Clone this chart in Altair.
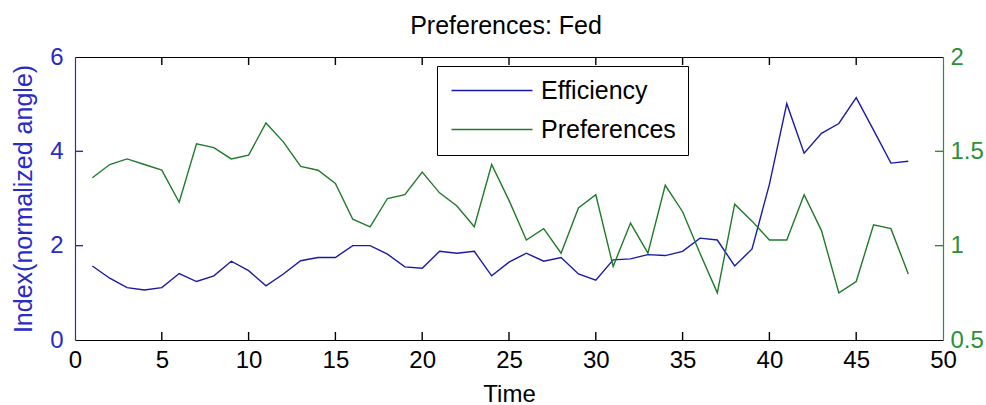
import altair as alt
import pandas as pd

# ---- data ----
time = list(range(1, 49))
efficiency = [1.57, 1.31, 1.11, 1.06, 1.11, 1.41, 1.24, 1.36, 1.67, 1.47, 1.15, 1.40, 1.68, 1.75, 1.75, 2.00,
              2.00, 1.82, 1.55, 1.52, 1.88, 1.84, 1.88, 1.36, 1.65, 1.84, 1.67, 1.75, 1.40, 1.27, 1.70, 1.72,
              1.81, 1.79, 1.88, 2.16, 2.12, 1.57, 1.93, 3.30, 5.01, 3.96, 4.38, 4.59, 5.14, 4.45, 3.75, 3.79]
preferences = [1.36, 1.43, 1.46, 1.43, 1.40, 1.23, 1.54, 1.52, 1.46, 1.48, 1.65, 1.55, 1.42, 1.40, 1.33, 1.14,
               1.10, 1.25, 1.27, 1.39, 1.28, 1.21, 1.10, 1.43, 1.24, 1.03, 1.09, 0.96, 1.20, 1.27, 0.89, 1.12,
               0.96, 1.32, 1.18, 0.96, 0.75, 1.22, 1.13, 1.03, 1.03, 1.27, 1.08, 0.75, 0.81, 1.11, 1.09, 0.85]
series = ["Efficiency", "Preferences"]
x_ticks = [0, 5, 10, 15, 20, 25, 30, 35, 40, 45, 50]
x_inner = [5, 10, 15, 20, 25, 30, 35, 40, 45]
left_ticks = [0, 2, 4, 6]
left_inner = [2, 4]
right_ticks = [0.5, 1, 1.5, 2]
right_inner = [1, 1.5]

df = pd.DataFrame({"Time": time, "Efficiency": efficiency, "Preferences": preferences})
df_xt = pd.DataFrame({"v": x_inner})
df_lt = pd.DataFrame({"v": left_inner})
df_rt = pd.DataFrame({"v": right_inner})

W, H = 868, 283
TL = 8  # inward tick length (pixels)
BLUE = "#1a1aa6"
GREEN = "#207a2a"
BLUE_AX = "#2a2ac4"
GREEN_AX = "#2f8f35"
SANS = "Liberation Sans, Arial, sans-serif"
TICK_FS = 24

xs = alt.Scale(domain=[0, 50], nice=False, zero=False)
ys_l = alt.Scale(domain=[0, 6], nice=False, zero=False)
ys_r = alt.Scale(domain=[0.5, 2], nice=False, zero=False)
color_scale = alt.Scale(domain=series, range=[BLUE, GREEN])

# legend line: custom horizontal stroke path (scaled by sqrt(size)/2 = 10 px per unit)
legend = alt.Legend(
    title=None, orient="none", legendX=362, legendY=9,
    symbolType="M-1,0H7.1", symbolSize=400, symbolStrokeWidth=1.5,
    labelFont=SANS, labelFontSize=25, labelColor="black", labelOffset=67,
    strokeColor="black", fillColor="white", padding=12, rowPadding=13,
    cornerRadius=0,
)

base = alt.Chart(df)

eff_line = base.mark_line(strokeWidth=1.4).transform_calculate(
    series="'Efficiency'"
).encode(
    x=alt.X("Time:Q", scale=xs, axis=alt.Axis(
        orient="bottom", values=x_ticks, ticks=False, grid=False,
        domainColor="black", domainWidth=1.2,
        labelFont=SANS, labelFontSize=TICK_FS, labelColor="black", labelPadding=8,
        labelFlush=False, labelOverlap=False,
        title="Time", titleFont=SANS, titleFontSize=24, titleFontWeight="normal",
        titleColor="black", titleBaseline="alphabetic", titleY=61)),
    y=alt.Y("Efficiency:Q", scale=ys_l, axis=alt.Axis(
        orient="left", values=left_ticks, ticks=False, grid=False,
        domainColor=BLUE_AX, domainWidth=1.2,
        labelFont=SANS, labelFontSize=TICK_FS, labelColor=BLUE_AX, labelPadding=12,
        labelFlush=False, labelOverlap=False,
        title="Index(normalized angle)", titleFont=SANS, titleFontSize=25,
        titleFontWeight="normal", titleColor=BLUE_AX, titleAngle=270,
        titleX=-52, titleY=141.5, titleAlign="center", titleBaseline="middle")),
    color=alt.Color("series:N", scale=color_scale, legend=legend),
)

pref_line = base.mark_line(strokeWidth=1.4).transform_calculate(
    series="'Preferences'"
).encode(
    x=alt.X("Time:Q", scale=xs, axis=alt.Axis(
        orient="top", values=x_ticks, ticks=False, labels=False, grid=False,
        domainColor="black", domainWidth=1.2, title=None)),
    y=alt.Y("Preferences:Q", scale=ys_r, axis=alt.Axis(
        orient="right", values=right_ticks, format="~g", ticks=False, grid=False,
        domainColor=GREEN_AX, domainWidth=1.2,
        labelFont=SANS, labelFontSize=TICK_FS, labelColor=GREEN_AX, labelPadding=7,
        labelFlush=False, labelOverlap=False, title=None)),
    color=alt.Color("series:N", scale=color_scale, legend=legend),
)

# inward tick marks (MATLAB style), placed through the same scales
top_ticks = alt.Chart(df_xt).mark_rule(color="black", strokeWidth=1.4).encode(
    x=alt.X("v:Q", scale=xs, axis=None), y=alt.value(0), y2=alt.value(TL))
bottom_ticks = alt.Chart(df_xt).mark_rule(color="black", strokeWidth=1.4).encode(
    x=alt.X("v:Q", scale=xs, axis=None), y=alt.value(H - TL), y2=alt.value(H))
left_tick_marks = alt.Chart(df_lt).mark_rule(color=BLUE_AX, strokeWidth=1.4).encode(
    y=alt.Y("v:Q", scale=ys_l, axis=None), x=alt.value(0), x2=alt.value(TL))
right_tick_marks = alt.Chart(df_rt).mark_rule(color=GREEN_AX, strokeWidth=1.4).encode(
    y=alt.Y("v:Q", scale=ys_r, axis=None), x=alt.value(W - TL), x2=alt.value(W))

chart = alt.layer(
    eff_line, pref_line, top_ticks, bottom_ticks, left_tick_marks, right_tick_marks
).resolve_scale(
    x="independent", y="independent", color="shared"
).resolve_axis(
    x="independent", y="independent"
).properties(
    width=W, height=H,
    title=alt.TitleParams("Preferences: Fed", font=SANS, fontSize=25, fontWeight="normal",
                          color="black", anchor="middle", offset=6, dx=-3),
    autosize=alt.AutoSizeParams(type="none"),
    padding={"left": 75, "top": 57, "right": 43, "bottom": 65},
    background="white",
).configure_view(stroke=None)

chart.save("out.html", embed_options={"renderer": "svg", "actions": False})
